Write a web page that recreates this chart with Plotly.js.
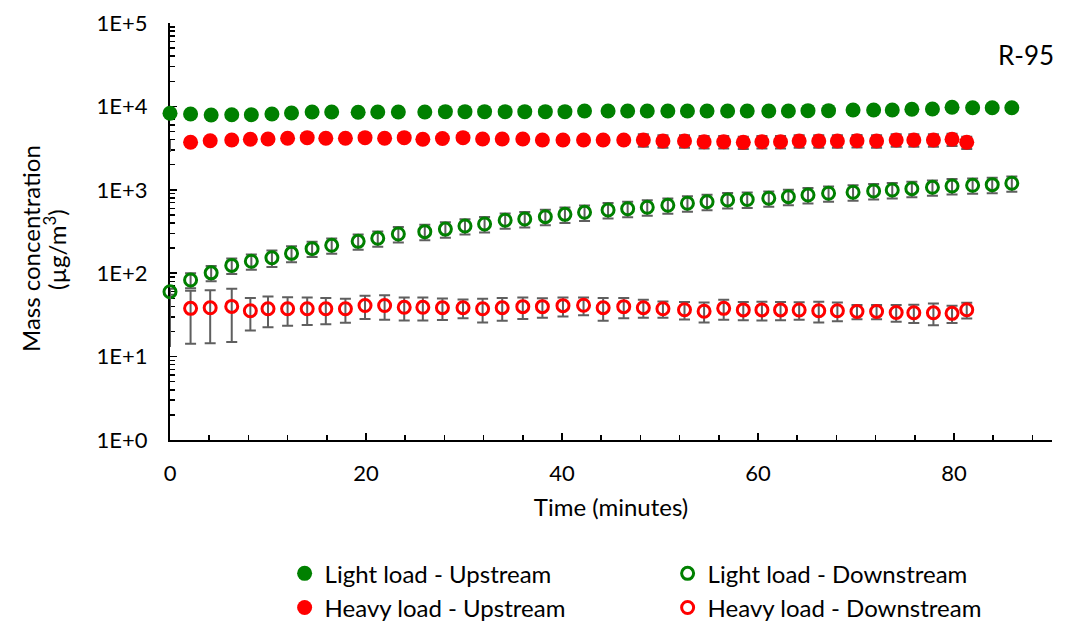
<!DOCTYPE html>
<html>
<head>
<meta charset="utf-8">
<script src="https://cdn.plot.ly/plotly-3.0.1.min.js"></script>
<style>
  html, body { margin: 0; padding: 0; background: #fff; }
  #chart { width: 1070px; height: 625px; }
</style>
</head>
<body>
<div id="chart"></div>
<script>
// Sampling times (minutes) for each loading condition
const lightTime = [0, 2.1, 4.2, 6.3, 8.3, 10.4, 12.4, 14.5, 16.5, 19.2, 21.2, 23.3, 26.0, 28.1, 30.1, 32.1, 34.2, 36.2, 38.3, 40.3, 42.3, 44.7, 46.7, 48.7, 50.8, 52.8, 54.8, 56.9, 58.9, 61.1, 63.1, 65.1, 67.2, 69.7, 71.8, 73.7, 75.7, 77.8, 79.8, 81.9, 83.9, 85.9];
const heavyTime = [0, 2.1, 4.1, 6.3, 8.2, 10.0, 12.0, 14.0, 15.9, 17.9, 19.9, 21.9, 23.9, 25.8, 27.8, 29.9, 31.9, 33.9, 36.0, 38.0, 40.1, 42.2, 44.2, 46.3, 48.3, 50.3, 52.5, 54.5, 56.5, 58.5, 60.4, 62.3, 64.2, 66.2, 68.1, 70.1, 72.1, 74.1, 75.9, 77.9, 79.8, 81.3];

// Mass concentration (µg/m³) and standard deviation
const lightUp = [8260, 8110, 7890, 7950, 7950, 8110, 8340, 8570, 8570, 8500, 8570, 8570, 8570, 8650, 8650, 8650, 8650, 8650, 8650, 8650, 8810, 8810, 8810, 8810, 8810, 8810, 8810, 8810, 8810, 8810, 8810, 8890, 8890, 9060, 9060, 9060, 9230, 9310, 9750, 9640, 9640, 9640];
const lightUpErr = [250, 240, 240, 240, 240, 240, 250, 260, 260, 250, 260, 260, 260, 260, 260, 260, 260, 260, 260, 260, 260, 260, 260, 260, 260, 260, 260, 260, 260, 260, 260, 270, 270, 270, 270, 270, 280, 280, 290, 290, 290, 290];

const lightDown = [60, 83, 101, 124, 139, 153, 173, 197, 216, 241, 262, 295, 315, 338, 368, 389, 431, 447, 476, 508, 537, 573, 593, 617, 652, 689, 720, 755, 765, 791, 827, 866, 908, 934, 968, 995, 1031, 1071, 1111, 1132, 1152, 1197];
const lightDownErr = [5, 17, 21, 26, 29, 34, 38, 41, 45, 50, 55, 62, 66, 71, 77, 82, 90, 94, 100, 107, 113, 120, 125, 130, 137, 145, 151, 159, 161, 166, 174, 182, 191, 196, 203, 209, 217, 225, 233, 238, 242, 251];

const heavyUp = [3400, 3710, 3880, 3955, 4030, 4065, 4150, 4220, 4150, 4150, 4220, 4150, 4220, 4030, 4120, 4220, 4065, 4065, 4065, 3955, 3955, 3955, 3955, 3955, 3955, 3850, 3850, 3775, 3775, 3710, 3775, 3775, 3850, 3850, 3850, 3880, 3850, 3955, 3955, 3955, 4030, 3710];
const heavyUpErr = [560, 220, 230, 230, 240, 240, 250, 250, 250, 250, 250, 250, 250, 240, 250, 250, 240, 240, 240, 240, 240, 240, 240, 240, 672, 655, 655, 642, 642, 630, 642, 642, 655, 655, 655, 660, 655, 672, 672, 672, 685, 630];

const heavyDown = [37, 37.9, 38.5, 40, 35.5, 37.5, 37.5, 37.5, 37.5, 37.5, 41, 41, 39, 39, 38.6, 38.6, 37.5, 38.6, 39.7, 39.7, 40.8, 41.3, 38.6, 39.7, 38.6, 37.5, 36.5, 35, 37.9, 36.3, 36.3, 36.3, 36.2, 35.5, 35.5, 34.8, 34.8, 33.8, 33.6, 33.5, 33, 36.5];
const heavyDownErr = [24, 23.6, 24, 25, 15, 15, 14, 13.5, 13, 12, 12.7, 13.4, 12, 12, 11.2, 9.7, 11.9, 11.7, 11.4, 10.4, 10.5, 9.9, 11.7, 10.8, 9.3, 8.3, 8.7, 9.4, 10.3, 9, 9.3, 9, 8.5, 9.9, 9, 6.8, 6.8, 7.7, 8.3, 9.8, 7.7, 7.8];

// Axis ticks and titles
const yTickVals = [1, 10, 100, 1000, 10000, 100000];
const yTickText = ['1E+0', '1E+1', '1E+2', '1E+3', '1E+4', '1E+5'];
const yTitleLines = ['Mass concentration', '(µg/m<sup>3</sup>)'];

const GREEN = '#008000';
const RED = '#ff0000';
const ERR_COLOR = '#5f5f5f';

function errBar(values) {
  return { type: 'data', array: values, visible: true, color: ERR_COLOR, thickness: 2, width: 5.5 };
}

const traces = [
  {
    name: 'Light load - Upstream',
    x: lightTime, y: lightUp,
    error_y: errBar(lightUpErr),
    mode: 'markers', type: 'scatter', cliponaxis: false,
    marker: { symbol: 'circle', size: 15, color: GREEN }
  },
  {
    name: 'Light load - Downstream',
    x: lightTime, y: lightDown,
    error_y: errBar(lightDownErr),
    mode: 'markers', type: 'scatter', cliponaxis: false,
    marker: { symbol: 'circle-open', size: 12, color: GREEN, line: { width: 3, color: GREEN } }
  },
  {
    name: 'Heavy load - Upstream',
    x: heavyTime.slice(1), y: heavyUp.slice(1),
    error_y: errBar(heavyUpErr.slice(1)),
    mode: 'markers', type: 'scatter', cliponaxis: false,
    marker: { symbol: 'circle', size: 15, color: RED }
  },
  {
    name: 'Heavy load - Downstream',
    x: heavyTime.slice(1), y: heavyDown.slice(1),
    error_y: errBar(heavyDownErr.slice(1)),
    mode: 'markers', type: 'scatter', cliponaxis: false,
    marker: { symbol: 'circle-open', size: 12, color: RED, line: { width: 3, color: RED } }
  },
  // Starting readings of the heavy-load runs: only the deviation is shown
  {
    name: 'Heavy load - Upstream (t0)', showlegend: false,
    x: heavyTime.slice(0, 1), y: heavyUp.slice(0, 1),
    error_y: Object.assign(errBar(heavyUpErr.slice(0, 1)), { width: 0 }),
    mode: 'markers', type: 'scatter', cliponaxis: false,
    marker: { size: 1, color: RED, opacity: 0 }, hoverinfo: 'skip'
  },
  {
    name: 'Heavy load - Downstream (t0)', showlegend: false,
    x: heavyTime.slice(0, 1), y: heavyDown.slice(0, 1),
    error_y: Object.assign(errBar(heavyDownErr.slice(0, 1)), { width: 0 }),
    mode: 'markers', type: 'scatter', cliponaxis: false,
    marker: { size: 1, color: RED, opacity: 0 }, hoverinfo: 'skip'
  }
];

const layout = {
  width: 1070, height: 625,
  margin: { l: 170, r: 18, t: 23, b: 185 },
  paper_bgcolor: '#fff', plot_bgcolor: '#fff',
  font: { family: 'Lato, "Open Sans", sans-serif', size: 22, color: '#000' },
  showlegend: true,
  xaxis: {
    range: [0, 90], tickmode: 'linear', tick0: 0, dtick: 20,
    ticks: 'inside', ticklen: 7, tickwidth: 1.5, tickcolor: '#000',
    minor: { ticks: 'inside', dtick: 4, tick0: 0, ticklen: 5, tickwidth: 1.5, tickcolor: '#000', showgrid: false },
    showline: true, linecolor: '#000', linewidth: 2,
    showgrid: false, zeroline: false, layer: 'below traces',
    ticklabelstandoff: 13,
    tickfont: { size: 22 },
    title: { text: 'Time (minutes)', font: { size: 24 }, standoff: 14 }
  },
  yaxis: {
    type: 'log', range: [0, 5],
    tickmode: 'array', tickvals: yTickVals, ticktext: yTickText,
    ticks: 'inside', ticklen: 7, tickwidth: 1.5, tickcolor: '#000',
    minor: { ticks: 'inside', dtick: 'D1', ticklen: 5, tickwidth: 1.5, tickcolor: '#000', showgrid: false },
    showline: true, linecolor: '#000', linewidth: 2,
    showgrid: false, zeroline: false, layer: 'below traces',
    ticklabelstandoff: 16,
    tickfont: { size: 22 }
  },
  legend: {
    orientation: 'h', xref: 'container', yref: 'container',
    x: 0.266, y: 0.118, xanchor: 'left', yanchor: 'top',
    entrywidth: 338, itemwidth: 30,
    font: { size: 24 }, bgcolor: 'rgba(0,0,0,0)'
  },
  annotations: [
    {
      text: yTitleLines[0], xref: 'paper', yref: 'paper', x: -0.1587, y: 0.458,
      xanchor: 'center', yanchor: 'middle', textangle: -90, showarrow: false,
      font: { size: 24 }
    },
    {
      text: yTitleLines[1], xref: 'paper', yref: 'paper', x: -0.1304, y: 0.458,
      xanchor: 'center', yanchor: 'middle', textangle: -90, showarrow: false,
      font: { size: 24 }
    },
    {
      text: 'R-95', xref: 'paper', yref: 'paper', x: 0.97, y: 0.923,
      xanchor: 'center', yanchor: 'middle', showarrow: false,
      font: { size: 26 }
    }
  ]
};

Plotly.newPlot('chart', traces, layout, { displayModeBar: false, staticPlot: true });
</script>
</body>
</html>
